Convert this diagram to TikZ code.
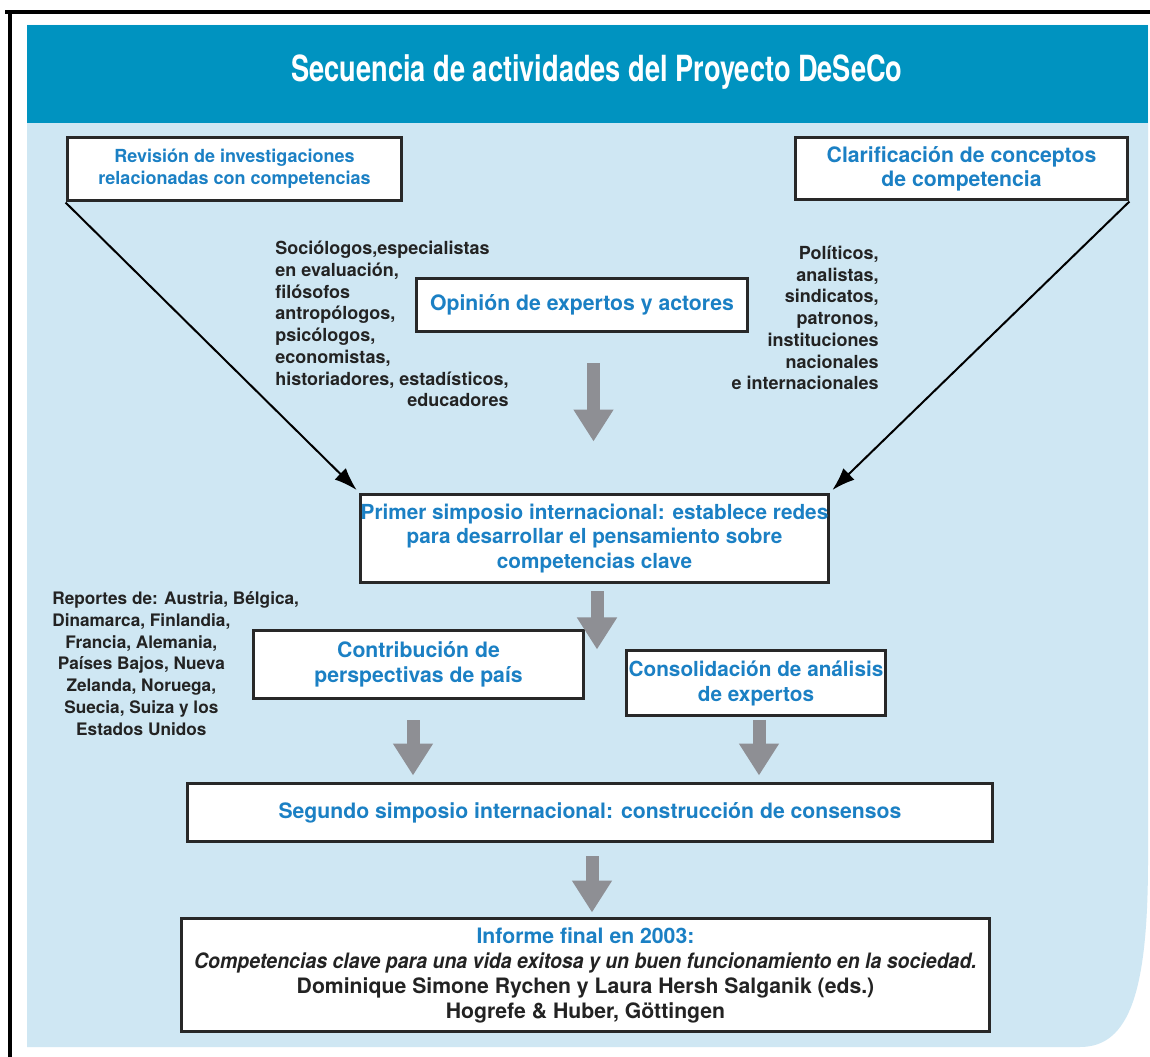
\documentclass[tikz,border=0pt]{standalone}
\usepackage{fontspec}
\setmainfont{TeX Gyre Heros}
\newfontfamily\fuentetitulo{TeX Gyre Heros}[FakeStretch=0.755]
\newfontfamily\fuentecond{TeX Gyre Heros}[FakeStretch=0.92]
\usetikzlibrary{calc,arrows.meta}
\definecolor{azulcab}{RGB}{0,147,192}
\definecolor{azulfondo}{RGB}{207,231,243}
\definecolor{azultexto}{RGB}{27,128,196}
\definecolor{grisflecha}{RGB}{142,143,148}
\definecolor{bordecaja}{RGB}{40,40,40}
\definecolor{negrotexto}{RGB}{35,35,35}
\tikzset{
	caja/.style={draw=bordecaja, line width=0.06cm, fill=white, text=azultexto, align=center, inner sep=0pt,
		font=\bfseries\fontsize{12.07}{14.2}\selectfont},
	notas/.style={text=negrotexto, inner sep=0pt, font=\bfseries\fontsize{10.25}{12.35}\selectfont},
	flechagris/.style={draw=grisflecha, line width=0.26cm, -{Triangle[width=0.76cm,length=0.64cm]}},
	flechanegra/.style={draw=black, line width=0.04cm, shorten >=2pt, -{Latex[length=0.46cm,width=0.32cm]}}
}
\begin{document}
\begin{tikzpicture}[x=0.02cm,y=-0.02cm]
			%%%%% START %%%%%
			\useasboundingbox (0,0) rectangle (1150,1057);
			\fill[white] (0,0) rectangle (1150,1057);
			
			% fondo
			\fill[azulfondo] (27,25) -- (1148,25) -- (1148,860) .. controls (1148,990) and (1130,1047) .. (1080,1047) -- (27,1047) -- cycle;
			\fill[azulcab] (27,25) rectangle (1148,123);
			\draw[line width=0.08cm] (5,12) -- (1150,12);
			\draw[line width=0.08cm] (10,12) -- (10,1057);
			
			\node[text=white, font=\fuentetitulo\bfseries\fontsize{20.5}{24}\selectfont] (titulo) at (597,72) {Secuencia de actividades del Proyecto DeSeCo};
			
			% cajas
			\node[caja, minimum width=6.7cm, minimum height=1.28cm, font=\bfseries\fontsize{10.25}{12.5}\selectfont] (revision) at (234.5,169)
				{Revisión de investigaciones\\relacionadas con competencias};
			\node[caja, minimum width=6.66cm, minimum height=1.26cm, font=\bfseries\fontsize{12.07}{13.66}\selectfont] (clarif) at (961.5,168.5)
				{Clarificación de conceptos\\de competencia};
			\node[caja, minimum width=6.64cm, minimum height=1.08cm] (opinion) at (582,305) {Opinión de expertos y actores};
			\node[caja, minimum width=9.34cm, minimum height=1.78cm, font=\bfseries\fontsize{11.8}{14.2}\selectfont] (primer) at (594.5,538.5)
				{Primer simposio internacional: establece redes\\para desarrollar el pensamiento sobre\\competencias clave};
			\node[caja, minimum width=6.62cm, minimum height=1.38cm] (contrib) at (418.5,664.5) {Contribución de\\perspectivas de país};
			\node[caja, minimum width=5.2cm, minimum height=1.3cm, font=\bfseries\fontsize{11.8}{14.2}\selectfont] (consol) at (756,683)
				{Consolidación de análisis\\de expertos};
			\node[caja, minimum width=16.12cm, minimum height=1.18cm] (segundo) at (590,812.5)
				{Segundo simposio internacional: construcción de consensos};
			\node[caja, minimum width=16.18cm, minimum height=2.28cm] (informe) at (585.5,975)
				{Informe final en 2003:\\
				{\color{negrotexto}\fuentecond\bfseries\itshape Competencias clave para una vida exitosa y un buen funcionamiento en la sociedad.}\\
				{\color{negrotexto}Dominique Simone Rychen y Laura Hersh Salganik (eds.)}\\
				{\color{negrotexto}Hogrefe \& Huber, Göttingen}};
			
			% textos sueltos
			\node[notas, anchor=west] (sociologos) at (275,326.5) {\begin{tabular}{@{}l@{}}
				Sociólogos,especialistas\\ en evaluación,\\ filósofos\\ antropólogos,\\ psicólogos,\\ economistas,\\
				historiadores, estadísticos,\\ \multicolumn{1}{@{}r@{}}{educadores}\end{tabular}};
			\node[notas, anchor=east, align=right] (politicos) at (879,318)
				{Políticos,\\analistas,\\sindicatos,\\patronos,\\instituciones\\nacionales\\e internacionales};
			\node[notas, anchor=west, font=\bfseries\fontsize{9.8}{12.4}\selectfont] (reportes) at (52,665.5) {\begin{tabular}{@{}c@{}}
				\makebox[3.56cm][l]{Reportes de: Austria, Bélgica,}\\ Dinamarca, Finlandia,\\ Francia, Alemania,\\ Países Bajos, Nueva\\
				Zelanda, Noruega,\\ Suecia, Suiza y los\\ Estados Unidos\end{tabular}};
			
			% flechas
			\draw[flechanegra] (revision.south west) -- (primer.north west);
			\draw[flechanegra] (clarif.south east) -- (primer.north east);
			
			\draw[flechagris] ($(opinion.south)+(11.5,30)$) -- ($(opinion.south |- primer.north)+(11.5,-51)$);
			\draw[flechagris] ($(primer.south)+(2.5,7)$) -- ($(primer.south)+(2.5,65)$);
			\draw[flechagris] ($(contrib.south)+(-5.5,20)$) -- ($(contrib.south |- segundo.north)+(-5.5,-6)$);
			\draw[flechagris] ($(consol.south)+(3,3)$) -- ($(consol.south |- segundo.north)+(3,-6)$);
			\draw[flechagris] ($(segundo.south)+(2,13)$) -- ($(segundo.south |- informe.north)+(2,-4)$);
			%%%%% END %%%%%
\end{tikzpicture}
\end{document}
